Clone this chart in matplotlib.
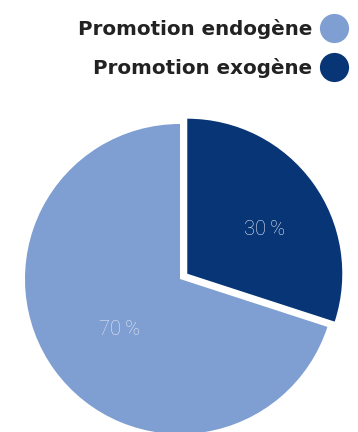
import matplotlib
matplotlib.use("Agg")
import matplotlib.pyplot as plt
from matplotlib.lines import Line2D
from matplotlib.transforms import offset_copy
import numpy as np

categories = ["Promotion endogène", "Promotion exogène"]
shares = [70, 30]
colors = ["#7f9ed2", "#083576"]

W, H = 358, 432
fig = plt.figure(figsize=(W / 100, H / 100), dpi=100)
ax = fig.add_axes([0, 0, 1, 1])

R = 155.0              # pie radius in px
cx, cy = 180.0, 153.0  # pie centre in px from bottom-left

# pie drawn clockwise from 12 o'clock, exogène first
wedges, texts, autotexts = ax.pie(
    shares[::-1],
    colors=colors[::-1],
    startangle=90,
    counterclock=False,
    explode=[0.058, 0],
    radius=1,
    autopct=lambda p: f"{p:.0f}\u2009%",
    pctdistance=0.55,
    wedgeprops=dict(linewidth=0),
    textprops=dict(color="#e3e9f4", fontsize=14.5, family=["Roboto", "DejaVu Sans"], fontweight="light"),
)
ax.set_aspect("auto")
ax.set_xlim(-cx / R, (W - cx) / R)
ax.set_ylim(-cy / R, (H - cy) / R)
ax.axis("off")

# percentage labels: dark slice further out, nudged slightly down
for w, t, d, dy in zip(wedges, autotexts, [0.6, 0.5], [-10, -5]):
    ang = np.deg2rad((w.theta1 + w.theta2) / 2)
    c = w.center
    t.set_position((c[0] + d * np.cos(ang), c[1] + d * np.sin(ang)))
    t.set_transform(offset_copy(ax.transData, fig=fig, x=2, y=dy, units="dots"))
    t.set_ha("center")
    t.set_va("center")

handles = [
    Line2D([], [], marker="o", linestyle="none", markersize=21,
           markerfacecolor=c, markeredgewidth=0)
    for c in colors
]
leg = fig.legend(
    handles, categories,
    loc="upper right",
    bbox_to_anchor=(348 / W, 1 - 19 / H),
    markerfirst=False,
    frameon=False,
    prop=dict(family=["DejaVu Sans"], weight="bold", size=14.3),
    handlelength=1.4,
    handletextpad=0.4,
    labelspacing=0.95,
    borderpad=0,
    borderaxespad=0,
)
for t in leg.get_texts():
    t.set_color("#222222")

fig.savefig("out.png", dpi=100)
